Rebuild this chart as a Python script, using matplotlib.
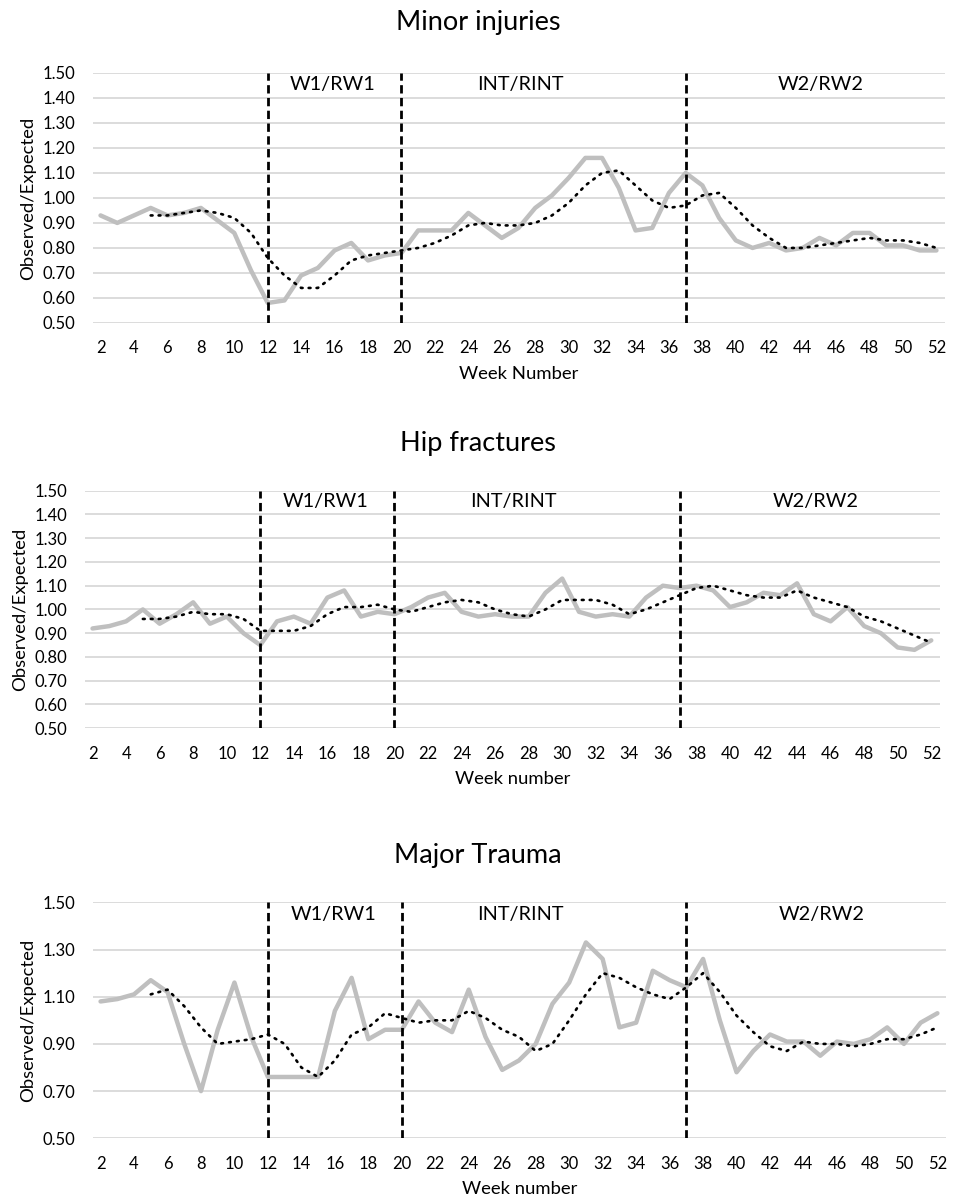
import matplotlib
matplotlib.use("Agg")
import matplotlib.pyplot as plt

plt.rcParams['font.family'] = ['Lato', 'DejaVu Sans']

weeks = list(range(2, 53))
ma_weeks = list(range(5, 53))

# Minor injuries
minor_obs = [0.93, 0.90, 0.93, 0.96, 0.93, 0.94, 0.96, 0.91, 0.86, 0.71,
             0.58, 0.59, 0.69, 0.72, 0.79, 0.82, 0.75, 0.77, 0.78, 0.87,
             0.87, 0.87, 0.94, 0.89, 0.84, 0.88, 0.96, 1.01, 1.08, 1.16,
             1.16, 1.04, 0.87, 0.88, 1.02, 1.10, 1.05, 0.92, 0.83, 0.80,
             0.82, 0.79, 0.80, 0.84, 0.81, 0.86, 0.86, 0.81, 0.81, 0.79,
             0.79]
minor_ma = [0.93, 0.93, 0.94, 0.95, 0.94, 0.92, 0.86, 0.76, 0.69, 0.64,
            0.64, 0.69, 0.75, 0.77, 0.78, 0.79, 0.80, 0.82, 0.85, 0.89,
            0.90, 0.89, 0.89, 0.90, 0.93, 0.98, 1.05, 1.10, 1.11, 1.05,
            0.99, 0.96, 0.97, 1.01, 1.02, 0.96, 0.89, 0.84, 0.80, 0.80,
            0.81, 0.82, 0.83, 0.84, 0.83, 0.83, 0.82, 0.80]

# Hip fractures
hip_obs = [0.92, 0.93, 0.95, 1.00, 0.94, 0.98, 1.03, 0.94, 0.97, 0.90,
           0.85, 0.95, 0.97, 0.94, 1.05, 1.08, 0.97, 0.99, 0.98, 1.01,
           1.05, 1.07, 0.99, 0.97, 0.98, 0.97, 0.97, 1.07, 1.13, 0.99,
           0.97, 0.98, 0.97, 1.05, 1.10, 1.09, 1.10, 1.08, 1.01, 1.03,
           1.07, 1.06, 1.11, 0.98, 0.95, 1.01, 0.93, 0.90, 0.84, 0.83,
           0.87]
hip_ma = [0.96, 0.96, 0.97, 0.99, 0.98, 0.98, 0.96, 0.91, 0.91, 0.91,
          0.93, 0.98, 1.01, 1.01, 1.02, 1.00, 0.99, 1.01, 1.03, 1.04,
          1.03, 1.00, 0.98, 0.97, 1.00, 1.04, 1.04, 1.04, 1.02, 0.98,
          1.00, 1.03, 1.06, 1.09, 1.10, 1.08, 1.06, 1.05, 1.05, 1.08,
          1.05, 1.03, 1.01, 0.97, 0.95, 0.92, 0.89, 0.86]

# Major trauma
major_obs = [1.08, 1.09, 1.11, 1.17, 1.12, 0.90, 0.70, 0.96, 1.16, 0.93,
             0.76, 0.76, 0.76, 0.76, 1.04, 1.18, 0.92, 0.96, 0.96, 1.08,
             0.99, 0.95, 1.13, 0.93, 0.79, 0.83, 0.90, 1.07, 1.16, 1.33,
             1.26, 0.97, 0.99, 1.21, 1.17, 1.14, 1.26, 1.00, 0.78, 0.87,
             0.94, 0.91, 0.91, 0.85, 0.91, 0.90, 0.92, 0.97, 0.90, 0.99,
             1.03]
major_ma = [1.11, 1.13, 1.06, 0.97, 0.90, 0.91, 0.92, 0.94, 0.90, 0.80,
            0.76, 0.83, 0.94, 0.97, 1.03, 1.01, 0.99, 1.00, 1.00, 1.04,
            1.01, 0.96, 0.93, 0.87, 0.90, 1.00, 1.11, 1.20, 1.18, 1.14,
            1.11, 1.09, 1.14, 1.20, 1.12, 1.02, 0.95, 0.89, 0.87, 0.91,
            0.90, 0.90, 0.89, 0.90, 0.92, 0.92, 0.94, 0.97]

wave_breaks = [12, 20, 37]
wave_labels = ["W1/RW1", "INT/RINT", "W2/RW2"]
wave_label_x = [15.9, 27.1, 45.1]

panels = [
    ("Minor injuries", "Week Number", minor_obs, minor_ma,
     [0.0973, 0.7302, 0.891, 0.2089], [0.5 + 0.1 * i for i in range(11)], 1.455, 0.9816),
    ("Hip fractures", "Week number", hip_obs, hip_ma,
     [0.0889, 0.3916, 0.894, 0.1985], [0.5 + 0.1 * i for i in range(11)], 1.455, 0.6299),
    ("Major Trauma", "Week number", major_obs, major_ma,
     [0.0973, 0.0490, 0.892, 0.1972], [0.5 + 0.2 * i for i in range(6)], 1.45, 0.2857),
]

fig = plt.figure(figsize=(9.56, 11.97), dpi=100)

for title, xlabel, obs, ma, pos, yticks, label_y, title_y in panels:
    ax = fig.add_axes(pos)
    ax.plot(weeks, obs, color="#bfbfbf", lw=3.2, solid_joinstyle="round",
            solid_capstyle="round", zorder=3)
    ax.plot(ma_weeks, ma, color="black", lw=1.9, linestyle=(0, (0.7, 2.3)),
            dash_capstyle="round", zorder=4)
    for wb in wave_breaks:
        ax.axvline(wb, color="black", lw=2.0, linestyle=(0, (3, 1.6)), zorder=5)
    for lx, lab in zip(wave_label_x, wave_labels):
        ax.text(lx, label_y, lab, ha="center", va="center", fontsize=14.3)

    ax.set_xlim(1.55, 52.5)
    ax.set_ylim(0.5, 1.5)
    ax.set_yticks(yticks)
    ax.set_yticklabels(["%.2f" % t for t in yticks])
    ax.set_xticks(list(range(2, 53, 2)))
    ax.grid(axis="y", color="#d9d9d9", lw=1.3, zorder=0)
    ax.set_axisbelow(True)
    for s in ax.spines.values():
        s.set_visible(False)
    ax.tick_params(length=0, labelsize=12)
    ax.tick_params(axis="x", pad=12.5)
    ax.tick_params(axis="y", pad=12.5)
    ax.set_xlabel(xlabel, fontsize=13.3, labelpad=7)
    ax.set_ylabel("Observed/Expected", fontsize=13.3, labelpad=5)
    fig.text(0.5, title_y, title, ha="center", va="center", fontsize=19.5)

fig.savefig("out.png", dpi=100)
